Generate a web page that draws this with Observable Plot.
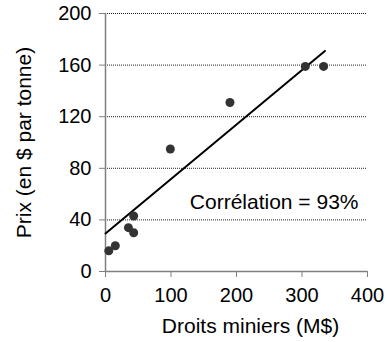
<!DOCTYPE html>
<html><head><meta charset="utf-8">
<script src="https://cdn.jsdelivr.net/npm/d3@7"></script>
<script src="https://cdn.jsdelivr.net/npm/@observablehq/plot@0.6"></script>
<style>body{margin:0;background:#fff}</style>
</head><body><div id="chart"></div>
<script>
const droits = [5, 15, 35, 43, 43, 99, 190, 305, 333];
const prix = [16, 20, 34, 43, 30, 95, 131, 159, 159];
const trendX = [0, 335];
const trendY = [29.5, 171];
const yTicks = [0, 40, 80, 120, 160, 200];
const xTicks = [0, 100, 200, 300, 400];
const gridY = [40, 80, 120, 160, 200];
const xTitle = "Droits miniers (M$)";
const yTitle = "Prix (en $ par tonne)";
const annotation = "Corrélation = 93%";

const chart = Plot.plot({
  width: 387,
  height: 342,
  marginLeft: 105,
  marginRight: 20,
  marginTop: 13,
  marginBottom: 71,
  style: {fontFamily: "'Liberation Sans', Arial, sans-serif", fontSize: "20px", background: "#fff", color: "#000"},
  x: {domain: [0, 400]},
  y: {domain: [0, 200]},
  marks: [
    Plot.ruleY(gridY, {stroke: "#222", strokeWidth: 1, strokeDasharray: "1,1"}),
    Plot.ruleY([0], {stroke: "#808080", strokeWidth: 1.5}),
    Plot.ruleX([0], {stroke: "#808080", strokeWidth: 1.5}),
    Plot.axisY({ticks: yTicks, tickSize: 6, tickPadding: 8, stroke: "#808080", label: null}),
    Plot.axisX({ticks: xTicks, tickSize: 6, tickPadding: 10, stroke: "#808080", label: null}),
    Plot.text([yTitle], {frameAnchor: "left", textAnchor: "middle", rotate: -90, dx: -81, fontSize: 21, text: d => d}),
    Plot.text([xTitle], {frameAnchor: "bottom", dx: 14, dy: 61, fontSize: 21, text: d => d}),
    Plot.line(trendX, {x: d => d, y: (d, i) => trendY[i], stroke: "#000", strokeWidth: 2}),
    Plot.dot(droits, {x: d => d, y: (d, i) => prix[i], r: 4.5, fill: "#333", stroke: null}),
    Plot.text([annotation], {frameAnchor: "bottom-right", textAnchor: "end", dx: -9, dy: -63, fontSize: 21, text: d => d})
  ]
});
document.getElementById("chart").append(chart);
</script>
</body></html>
